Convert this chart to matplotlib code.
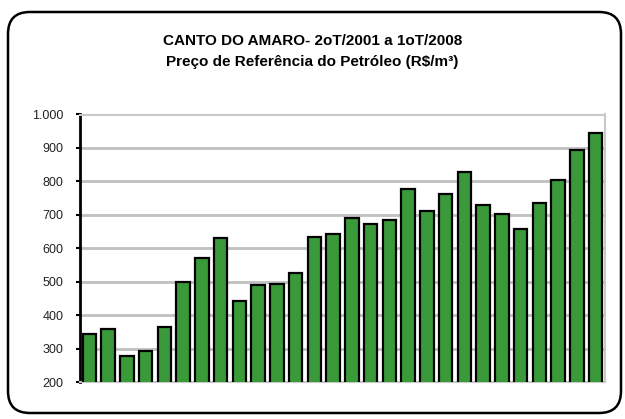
import matplotlib
matplotlib.use("Agg")
import matplotlib.pyplot as plt
from matplotlib.patches import FancyBboxPatch
from matplotlib.ticker import FuncFormatter

plt.rcParams['font.family'] = ['Liberation Sans', 'DejaVu Sans']

quarters = ["2T01", "3T01", "4T01",
            "1T02", "2T02", "3T02", "4T02",
            "1T03", "2T03", "3T03", "4T03",
            "1T04", "2T04", "3T04", "4T04",
            "1T05", "2T05", "3T05", "4T05",
            "1T06", "2T06", "3T06", "4T06",
            "1T07", "2T07", "3T07", "4T07",
            "1T08"]
prices = [343, 360, 277, 292, 364, 498, 570, 631, 442, 490, 493, 525,
          634, 644, 691, 672, 684, 776, 711, 762, 828, 729, 702, 657,
          734, 804, 894, 945]
yticks = [200, 300, 400, 500, 600, 700, 800, 900, 1000]

W, H = 625, 419
fig = plt.figure(figsize=(W / 100, H / 100), dpi=100)

# rounded border
border = FancyBboxPatch((8 / W, (H - 413) / H), 613 / W, 401 / H,
                        boxstyle="round,pad=0,rounding_size=0.035",
                        transform=fig.transFigure, fill=False,
                        edgecolor="black", linewidth=1.8, mutation_aspect=W / H)
fig.patches.append(border)

ax = fig.add_axes([80 / W, (H - 382) / H, (605 - 80) / W, (382 - 114.5) / H])
x = list(range(len(prices)))
ax.bar(x, prices, width=0.72, color="#3a9a3a", edgecolor="black",
       linewidth=1.6, zorder=3)
ax.set_xlim(-0.5, len(prices) - 0.5)
ax.set_ylim(200, 1000)
ax.set_yticks(yticks)
ax.yaxis.set_major_formatter(FuncFormatter(lambda v, p: f"{int(v):,}".replace(",", ".")))
ax.set_xticks([])
ax.grid(axis="y", color="#c0c0c0", linewidth=2, zorder=0)
for s in ["top", "right", "bottom"]:
    ax.spines[s].set_color("#c8c8c8")
    ax.spines[s].set_linewidth(1.5)
ax.spines["left"].set_color("black")
ax.spines["left"].set_linewidth(2)
ax.tick_params(axis="y", length=3, width=1.5, labelsize=9, pad=9, color="black",
               labelcolor="#222222")

fig.text(0.5, 1 - 41 / H, "CANTO DO AMARO- 2oT/2001 a 1oT/2008",
         ha="center", va="center", fontsize=11, fontweight="bold")
fig.text(0.5, 1 - 62 / H, "Preço de Referência do Petróleo (R$/m³)",
         ha="center", va="center", fontsize=11, fontweight="bold")

fig.savefig("out.png", dpi=100)
